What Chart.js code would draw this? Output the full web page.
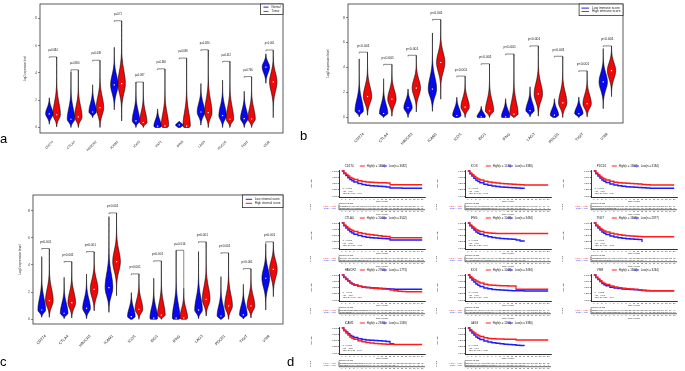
<!DOCTYPE html>
<html>
<head>
<meta charset="utf-8">
<title>Immune checkpoint expression and survival</title>
<script src="https://cdn.jsdelivr.net/npm/chart.js@4.4.1/dist/chart.umd.min.js"></script>
<style>
  html, body { margin: 0; padding: 0; background: #fff; }
  body { width: 685px; height: 371px; position: relative; overflow: hidden; font-family: "Liberation Sans", Arial, sans-serif; }
  canvas { position: absolute; }
  .tag { position: absolute; font-size: 13px; line-height: 13px; color: #000; }
</style>
</head>
<body>
<canvas id="va" width="300" height="165" style="left:0;top:0"></canvas>
<canvas id="vb" width="330" height="160" style="left:300px;top:0"></canvas>
<canvas id="vc" width="300" height="180" style="left:0;top:185px"></canvas>
<div class="tag" style="left:0;top:132px">a</div>
<div class="tag" style="left:300px;top:129px">b</div>
<div class="tag" style="left:0;top:355px">c</div>
<div class="tag" style="left:287px;top:355px">d</div>
<script>
const FAM = '"Liberation Sans", Arial, sans-serif';
Chart.defaults.font.family = FAM;
Chart.defaults.color = '#222';
Chart.defaults.animation = false;

const BLUE = '#0808ee', RED = '#ee0808';
const KBLUE = '#1c1cff', KRED = '#ff1c1c';

const genes = ['CD274', 'CTLA4', 'HAVCR2', 'ICAM1', 'ICOS', 'IDO1', 'IFNG', 'LAG3', 'PDCD1', 'TIGIT', 'VSIR'];

// a: normal vs tumor
const aNormalMin = [0.24, 0.0, 0.72, 1.30, 0.0, 0.0, 0.0, 0.17, 0.0, 0.0, 3.25];
const aNormalMed = [1.0, 0.6, 1.13, 3.13, 0.48, 0.1, 0.18, 1.13, 0.87, 0.65, 4.43];
const aNormalMax = [2.17, 4.1, 3.13, 5.88, 3.3, 1.35, 0.43, 3.22, 3.47, 2.65, 5.4];
const aTumorMin = [0.05, 0.0, 0.0, 0.48, 0.0, 0.0, 0.0, 0.0, 0.0, 0.0, 0.72];
const aTumorMed = [0.93, 0.77, 1.45, 3.22, 0.36, 0.12, 0.1, 1.08, 0.6, 0.62, 3.35];
const aTumorMax = [5.15, 4.2, 4.9, 7.8, 3.3, 4.27, 5.06, 5.67, 4.82, 3.7, 5.65];
const aPvals = ['p=0.684', 'p=0.860', 'p=0.039', 'p=0.71', 'p=0.087', 'p=0.360', 'p=0.036', 'p=0.480', 'p=0.412', 'p=0.766', 'p<0.001'];

// b: low vs high immune score
const bLowMin = [0.05, 0.0, 0.0, 0.49, 0.0, 0.0, 0.0, 0.05, 0.0, 0.0, 0.7];
const bLowMed = [0.52, 0.31, 0.78, 2.27, 0.15, 0.05, 0.05, 0.55, 0.18, 0.3, 2.84];
const bLowMax = [4.69, 3.1, 2.27, 6.77, 1.61, 0.88, 1.49, 2.45, 1.49, 1.61, 5.52];
const bHighMin = [0.18, 0.1, 0.44, 1.46, 0.0, 0.0, 0.0, 0.1, 0.0, 0.05, 1.67];
const bHighMed = [1.67, 1.46, 2.35, 4.4, 0.83, 0.52, 0.26, 1.88, 1.17, 1.1, 3.75];
const bHighMax = [5.2, 4.22, 4.95, 7.82, 3.28, 4.27, 5.05, 5.7, 4.87, 3.7, 5.7];
const bPvals = ['p<0.001', 'p<0.001', 'p<0.001', 'p<0.001', 'p<0.001', 'p<0.001', 'p<0.001', 'p<0.001', 'p<0.001', 'p<0.001', 'p<0.001'];

// c: low vs high stromal score
const cLowMin = [0.15, 0.05, 0.05, 0.51, 0.0, 0.0, 0.0, 0.05, 0.0, 0.05, 0.68];
const cLowMed = [0.68, 0.44, 0.81, 2.33, 0.2, 0.08, 0.08, 0.68, 0.24, 0.32, 3.02];
const cLowMax = [4.61, 3.09, 3.33, 7.56, 1.96, 3.02, 5.05, 4.98, 3.14, 2.57, 5.57];
const cHighMin = [0.15, 0.1, 0.63, 1.74, 0.0, 0.0, 0.0, 0.25, 0.0, 0.1, 1.67];
const cHighMed = [1.37, 1.22, 2.2, 4.24, 0.73, 0.3, 0.1, 1.47, 0.98, 0.98, 3.68];
const cHighMax = [5.18, 4.22, 4.95, 7.8, 3.31, 4.27, 2.28, 5.67, 4.86, 3.7, 5.67];
const cPvals = ['p<0.001', 'p<0.001', 'p<0.001', 'p<0.001', 'p<0.001', 'p<0.001', 'p=0.014', 'p<0.001', 'p<0.001', 'p<0.001', 'p<0.001'];

const yTicks = [0, 2, 4, 6, 8];

// d: survival curves
const kmTimes = [0, 0.5, 1, 1.5, 2, 2.5, 3, 4, 5, 6, 7, 8, 9, 10, 11, 12, 13, 14, 15, 16, 17, 18, 19, 20];
const kmGenes = ['CD274', 'ICOS', 'PDCD1', 'CTLA4', 'IFNG', 'TIGIT', 'HAVCR2', 'IDO1', 'VSIR', 'ICAM1', 'LAG3'];
const kmHighN = [1463, 1170, 1362, 1040, 1048, 1665, 2769, 1048, 1302, 2973, 1165];
const kmLowN = [3082, 3380, 3184, 3502, 3494, 2877, 1773, 3494, 3244, 1569, 3380];
const kmHigh = [
  [1, .92, .86, .8, .74, .7, .66, .61, .58, .56, .55, .54, .53, .53, .52, .45, .45, .45, .45, .45, .45, .45, .45, .45],
  [1, .92, .85, .78, .72, .68, .64, .59, .56, .54, .52, .5, .49, .48, .47, .46, .45, .44, .44, .44, .44, .44, .44, .44],
  [1, .92, .85, .78, .72, .68, .64, .59, .55, .53, .52, .51, .5, .49, .48, .46, .45, .44, .44, .44, .44, .44, .44, .44],
  [1, .92, .85, .79, .74, .7, .66, .61, .58, .55, .53, .51, .49, .47, .46, .41, .41, .41, .41, .41, .41, .41, .41, .41],
  [1, .92, .85, .79, .73, .69, .66, .62, .6, .59, .58, .58, .58, .58, .58, .58, .58, .58, .58, .58, .58, .58, .58, .58],
  [1, .92, .85, .78, .72, .68, .64, .59, .56, .53, .51, .49, .48, .47, .46, .45, .45, .45, .45, .45, .45, .45, .45, .45],
  [1, .9, .82, .75, .68, .64, .6, .55, .52, .5, .48, .46, .45, .44, .43, .4, .37, .35, .34, .33, .33, .33, .33, .33],
  [1, .93, .87, .81, .76, .72, .68, .63, .6, .59, .58, .57, .57, .56, .56, .43, .43, .43, .43, .43, .43, .43, .43, .43],
  [1, .91, .84, .77, .7, .66, .62, .56, .52, .49, .47, .45, .44, .43, .41, .39, .38, .37, .37, .37, .37, .37, .37, .37],
  [1, .89, .8, .72, .64, .59, .55, .49, .45, .42, .4, .38, .37, .36, .35, .35, .34, .34, .34, .34, .34, .34, .34, .34],
  [1, .93, .86, .8, .74, .7, .66, .61, .58, .57, .56, .56, .55, .55, .55, .52, .52, .52, .52, .52, .52, .52, .52, .52]
];
const kmLow = [
  [1, .9, .82, .73, .66, .61, .56, .5, .46, .43, .41, .4, .39, .38, .36, .32, .32, .32, .31, .31, .31, .31, .31, .31],
  [1, .89, .8, .71, .63, .58, .53, .47, .43, .4, .38, .36, .35, .34, .33, .32, .31, .28],
  [1, .89, .8, .72, .64, .59, .54, .48, .44, .41, .39, .37, .36, .35, .34, .33, .32, .31, .31, .31, .31, .31, .31, .31],
  [1, .89, .8, .72, .65, .6, .55, .5, .46, .43, .41, .4, .39, .38, .37, .32, .32, .32, .32, .32, .32, .32, .32, .32],
  [1, .89, .8, .72, .64, .59, .55, .49, .45, .42, .4, .38, .37, .36, .35, .32, .28, .25],
  [1, .89, .8, .72, .64, .59, .54, .48, .44, .41, .39, .37, .36, .35, .34, .24],
  [1, .91, .84, .77, .7, .65, .6, .55, .52, .5, .49, .48, .47, .46, .45, .44, .43, .43, .43, .43, .43, .43, .43, .43],
  [1, .89, .8, .72, .64, .59, .54, .48, .45, .42, .41, .4, .39, .38, .37, .37, .37, .36, .36, .36, .36, .36, .36, .36],
  [1, .9, .82, .74, .66, .61, .57, .51, .48, .46, .44, .43, .42, .41, .4, .38, .37, .37, .37, .37, .37, .37, .37, .37],
  [1, .91, .84, .77, .7, .66, .62, .57, .54, .52, .51, .5, .49, .48, .46, .37, .37],
  [1, .89, .8, .72, .64, .59, .54, .48, .44, .41, .39, .37, .35, .34, .33, .31, .3, .28]
];
const kmP = ['p < 0.001', 'p < 0.001', 'p < 0.001', 'p < 0.001', 'p < 0.001', 'p < 0.001', 'p = 0.041', 'p < 0.001', 'p = 0.052', 'p < 0.001', 'p < 0.001'];
const kmHR = ['HR = 0.79', 'HR = 0.80', 'HR = 0.78', 'HR = 0.80', 'HR = 0.67', 'HR = 0.81', 'HR = 1.10', 'HR = 0.76', 'HR = 0.92', 'HR = 1.26', 'HR = 0.74'];
const kmCI = ['95% CI: 0.69 - 0.90', '95% CI: 0.70 - 0.92', '95% CI: 0.68 - 0.89', '95% CI: 0.70 - 0.92', '95% CI: 0.58 - 0.77',
  '95% CI: 0.71 - 0.92', '95% CI: 0.98 - 1.24', '95% CI: 0.66 - 0.87', '95% CI: 0.81 - 1.04', '95% CI: 1.11 - 1.43', '95% CI: 0.64 - 0.85'];

const OFF = 0.17, HW = 0.17;

// kernel spread on each side of the median, narrower for long tails
function spread(d) {
  return Math.max(Math.min(0.36 * d, 0.38 + 0.12 * d), 0.12);
}

function drawViolin(ctx, xs, ys, xv, lo, med, hi, color) {
  const cx = xs.getPixelForValue(xv);
  const hw = xs.getPixelForValue(HW) - xs.getPixelForValue(0);
  const sl = spread(med - lo), su = spread(hi - med);
  const n = 80, pts = [];
  for (let k = 0; k <= n; k++) {
    const v = lo + (hi - lo) * k / n;
    const u = (v - med) / (v < med ? sl : su);
    pts.push([ys.getPixelForValue(v), hw * Math.exp(-0.5 * u * u)]);
  }
  ctx.beginPath();
  pts.forEach((p, k) => k ? ctx.lineTo(cx - p[1], p[0]) : ctx.moveTo(cx - p[1], p[0]));
  for (let k = n; k >= 0; k--) ctx.lineTo(cx + pts[k][1], pts[k][0]);
  ctx.closePath();
  ctx.fillStyle = color;
  ctx.fill();
  ctx.strokeStyle = '#000';
  ctx.lineWidth = 0.6;
  ctx.stroke();
}

function violinChart(id, s) {
  const lowPts = genes.map((g, i) => ({ x: i - OFF, y: s.lowMed[i] }));
  const highPts = genes.map((g, i) => ({ x: i + OFF, y: s.highMed[i] }));
  const extras = {
    id: 'violins',
    beforeDatasetsDraw(chart) {
      const { ctx, scales: { x, y } } = chart;
      ctx.save();
      genes.forEach((g, i) => {
        drawViolin(ctx, x, y, i - OFF, s.lowMin[i], s.lowMed[i], s.lowMax[i], BLUE);
        drawViolin(ctx, x, y, i + OFF, s.highMin[i], s.highMed[i], s.highMax[i], RED);
      });
      ctx.restore();
    },
    afterDatasetsDraw(chart) {
      const { ctx, chartArea: a, scales: { x, y } } = chart;
      ctx.save();
      // brackets and p values
      ctx.strokeStyle = '#111';
      ctx.lineWidth = 0.5;
      ctx.fillStyle = '#111';
      ctx.font = s.pf + 'px ' + FAM;
      ctx.textAlign = 'center';
      ctx.textBaseline = 'middle';
      genes.forEach((g, i) => {
        const top = y.getPixelForValue(Math.max(s.lowMax[i], s.highMax[i]) + 0.03);
        const xl = x.getPixelForValue(i - OFF), xr = x.getPixelForValue(i + OFF);
        ctx.beginPath();
        ctx.moveTo(xl, top + 1.2);
        ctx.lineTo(xl, top);
        ctx.lineTo(xr, top);
        ctx.lineTo(xr, Math.max(top + 1.2, y.getPixelForValue(s.highMax[i])));
        ctx.stroke();
        ctx.fillText(s.pvals[i], x.getPixelForValue(i), top - 6.5);
      });
      // frame
      ctx.strokeStyle = '#4a4a4a';
      ctx.lineWidth = 0.9;
      ctx.strokeRect(a.left, a.top, a.right - a.left, a.bottom - a.top);
      // legend
      const L = s.leg;
      ctx.font = L.font + 'px ' + FAM;
      ctx.textAlign = 'left';
      const tw = Math.max(...s.names.map(t => ctx.measureText(t).width));
      const bw = L.padX + L.line + L.gap + tw + 2.5;
      const bh = 2 * L.padY + 2 * L.row;
      const bx = a.right - bw, by = a.top;
      ctx.fillStyle = '#fff';
      ctx.fillRect(bx, by, bw, bh);
      ctx.strokeStyle = '#333';
      ctx.lineWidth = 0.8;
      ctx.strokeRect(bx, by, bw, bh);
      [BLUE, RED].forEach((col, r) => {
        const ry = by + L.padY + L.row * (r + 0.5);
        ctx.strokeStyle = col;
        ctx.lineWidth = 0.9;
        ctx.beginPath();
        ctx.moveTo(bx + L.padX, ry);
        ctx.lineTo(bx + L.padX + L.line, ry);
        ctx.stroke();
        ctx.fillStyle = '#222';
        ctx.fillText(s.names[r], bx + L.padX + L.line + L.gap, ry);
      });
      ctx.restore();
    }
  };
  return new Chart(document.getElementById(id), {
    type: 'scatter',
    data: {
      datasets: [
        { label: s.names[0], data: lowPts, backgroundColor: '#fff', borderColor: '#fff', pointBorderWidth: 0 },
        { label: s.names[1], data: highPts, backgroundColor: '#fff', borderColor: '#fff', pointBorderWidth: 0 }
      ]
    },
    options: {
      responsive: false,
      devicePixelRatio: 1,
      layout: { padding: s.pad },
      elements: { point: { radius: 0.85, pointStyle: 'rect' } },
      plugins: { legend: { display: false }, tooltip: { enabled: false } },
      scales: {
        x: {
          type: 'linear', min: s.xr[0], max: s.xr[1],
          afterBuildTicks: sc => { sc.ticks = genes.map((g, i) => ({ value: i })); },
          afterFit: sc => { sc.height = s.xh; },
          ticks: { callback: v => genes[v], autoSkip: false, minRotation: 45, maxRotation: 45, padding: s.xpad, font: { size: s.xf }, color: '#222' },
          grid: { display: false, drawTicks: false },
          border: { display: false }
        },
        y: {
          min: s.yr[0], max: s.yr[1],
          afterBuildTicks: sc => { sc.ticks = yTicks.map(v => ({ value: v })); },
          afterFit: sc => { sc.width = s.yw; },
          ticks: { font: { size: s.yf }, padding: 1, color: '#333' },
          grid: { drawOnChartArea: false, tickLength: 2, color: '#333', lineWidth: 0.6 },
          border: { display: false },
          title: { display: true, text: 'Log2 expression level', font: { size: s.tf }, padding: { top: s.tpad, bottom: 0 }, color: '#333' }
        }
      }
    },
    plugins: [extras]
  });
}

violinChart('va', {
  lowMin: aNormalMin, lowMed: aNormalMed, lowMax: aNormalMax,
  highMin: aTumorMin, highMed: aTumorMed, highMax: aTumorMax,
  pvals: aPvals, names: ['Normal', 'Tumor'],
  pad: { left: 0, right: 17, top: 2, bottom: 0 }, xh: 32, yw: 40,
  xr: [-0.6, 10.62], yr: [-0.41, 9.06], xpad: 7, xf: 3.3, yf: 3, tf: 2.6, tpad: 23.5, pf: 2.6,
  leg: { font: 2.8, line: 5, gap: 3, padX: 3, padY: 1, row: 4.3 }
});
violinChart('vb', {
  lowMin: bLowMin, lowMed: bLowMed, lowMax: bLowMax,
  highMin: bHighMin, highMed: bHighMed, highMax: bHighMax,
  pvals: bPvals, names: ['Low immune score', 'High immune score'],
  pad: { left: 0, right: 7, top: 1, bottom: 0 }, xh: 37, yw: 48,
  xr: [-0.63, 10.64], yr: [-0.45, 9.09], xpad: 9, xf: 3.8, yf: 3.4, tf: 2.9, tpad: 26.3, pf: 3.4,
  leg: { font: 3.3, line: 7.7, gap: 3, padX: 2.3, padY: 2.4, row: 3.4 }
});
violinChart('vc', {
  lowMin: cLowMin, lowMed: cLowMed, lowMax: cLowMax,
  highMin: cHighMin, highMed: cHighMed, highMax: cHighMax,
  pvals: cPvals, names: ['Low stromal score', 'High stromal score'],
  pad: { left: 0, right: 17, top: 10, bottom: 0 }, xh: 41, yw: 33,
  xr: [-0.56, 10.6], yr: [-0.35, 9.15], xpad: 10, xf: 3.8, yf: 3.4, tf: 3.1, tpad: 18, pf: 3.1,
  leg: { font: 3.1, line: 6.4, gap: 2.6, padX: 3.3, padY: 2.3, row: 4 }
});

// survival at a given year from the step curve; 0 once the curve has ended
function survAt(arr, t) {
  let idx = -1;
  for (let j = 0; j < arr.length; j++) if (kmTimes[j] <= t) idx = j;
  return kmTimes[arr.length - 1] < t ? 0 : arr[idx];
}

function kmExtras(k) {
  return {
    id: 'kmExtras',
    afterDraw(chart) {
      const { ctx, chartArea: a, scales: { x } } = chart;
      const pl = x.getPixelForValue(0);
      ctx.save();
      ctx.textBaseline = 'middle';
      // header with gene name and group key
      ctx.font = '2.8px ' + FAM;
      ctx.fillStyle = '#111';
      ctx.fillText(kmGenes[k], pl + 3, 3);
      ctx.lineWidth = 1;
      [[KRED, 'High(n = ' + kmHighN[k] + ')', 18], [KBLUE, 'Low(n = ' + kmLowN[k] + ')', 40]].forEach(([col, txt, dx]) => {
        ctx.strokeStyle = col;
        ctx.beginPath();
        ctx.moveTo(pl + dx, 3);
        ctx.lineTo(pl + dx + 5, 3);
        ctx.stroke();
        ctx.fillText(txt, pl + dx + 7, 3);
      });
      // statistics inside the plot
      ctx.font = '2.2px ' + FAM;
      [kmP[k], kmHR[k], kmCI[k]].forEach((t, r) => ctx.fillText(t, pl + 1, 25.7 + r * 2.3));
      // number at risk table
      ctx.fillText('Number at risk', pl - 3, 40.7);
      ctx.font = '1.9px ' + FAM;
      ctx.textAlign = 'center';
      for (let t = 0; t <= 20; t++) {
        const px = x.getPixelForValue(t);
        ctx.fillText(String(Math.round(kmHighN[k] * survAt(kmHigh[k], t) * (1 - t / 22))), px, 43);
        ctx.fillText(String(Math.round(kmLowN[k] * survAt(kmLow[k], t) * (1 - t / 22))), px, 45);
        ctx.fillText(String(t), px, 48.7);
      }
      ctx.strokeStyle = '#000';
      ctx.lineWidth = 0.6;
      ctx.beginPath();
      ctx.moveTo(a.left, 46.7);
      ctx.lineTo(a.right, 46.7);
      ctx.moveTo(a.left, 41.5);
      ctx.lineTo(a.left, 46.7);
      ctx.stroke();
      ctx.font = '2.2px ' + FAM;
      ctx.fillText('Time (years)', (a.left + a.right) / 2, 51);
      // strata labels
      ctx.textAlign = 'right';
      ctx.font = '2.2px ' + FAM;
      ctx.fillStyle = KRED;
      ctx.fillText('TCGA:=High', pl - 6, 43);
      ctx.fillStyle = KBLUE;
      ctx.fillText('TCGA:=Low', pl - 6, 45);
      ctx.fillStyle = '#111';
      ctx.translate(pl - 31, 44);
      ctx.rotate(-Math.PI / 2);
      ctx.textAlign = 'center';
      ctx.fillText('Strata', 0, 0);
      ctx.restore();
    }
  };
}

function kmChart(k) {
  const c = document.createElement('canvas');
  c.width = 126;
  c.height = 52;
  c.style.left = (302 + (k % 3) * 126) + 'px';
  c.style.top = Math.round(163 + Math.floor(k / 3) * 52.2) + 'px';
  document.body.appendChild(c);
  const pts = arr => arr.map((v, j) => ({ x: kmTimes[j], y: v }));
  const axisGrid = { drawOnChartArea: false, tickLength: 1, color: '#000', lineWidth: 0.5 };
  new Chart(c, {
    type: 'line',
    data: {
      datasets: [
        { label: 'High', data: pts(kmHigh[k]), borderColor: KRED, backgroundColor: KRED },
        { label: 'Low', data: pts(kmLow[k]), borderColor: KBLUE, backgroundColor: KBLUE }
      ]
    },
    options: {
      responsive: false,
      devicePixelRatio: 1,
      layout: { padding: { left: 0, right: 3, top: 7, bottom: 12 } },
      elements: { point: { radius: 0 }, line: { stepped: true, borderWidth: 1.3 } },
      plugins: { legend: { display: false }, tooltip: { enabled: false } },
      scales: {
        x: {
          type: 'linear', min: -0.7, max: 20.7,
          afterBuildTicks: sc => { sc.ticks = Array.from({ length: 21 }, (v, t) => ({ value: t })); },
          afterFit: sc => { sc.height = 6; },
          ticks: { font: { size: 2.1 }, padding: 0.5, maxRotation: 0, autoSkip: false, color: '#111' },
          grid: axisGrid,
          border: { color: '#000', width: 0.8 },
          title: { display: true, text: 'Time (years)', font: { size: 2.2 }, padding: 0, color: '#111' }
        },
        y: {
          min: -0.04, max: 1.04,
          afterBuildTicks: sc => { sc.ticks = [0, 0.25, 0.5, 0.75, 1].map(v => ({ value: v })); },
          afterFit: sc => { sc.width = 37; },
          ticks: { callback: v => v.toFixed(3), font: { size: 2.1 }, padding: 0.5, color: '#111' },
          grid: axisGrid,
          border: { color: '#000', width: 0.8 },
          title: { display: true, text: 'OS rate', font: { size: 2.4 }, padding: { top: 7.5, bottom: 0 }, color: '#111' }
        }
      }
    },
    plugins: [kmExtras(k)]
  });
}

kmGenes.forEach((g, k) => kmChart(k));
</script>
</body>
</html>
